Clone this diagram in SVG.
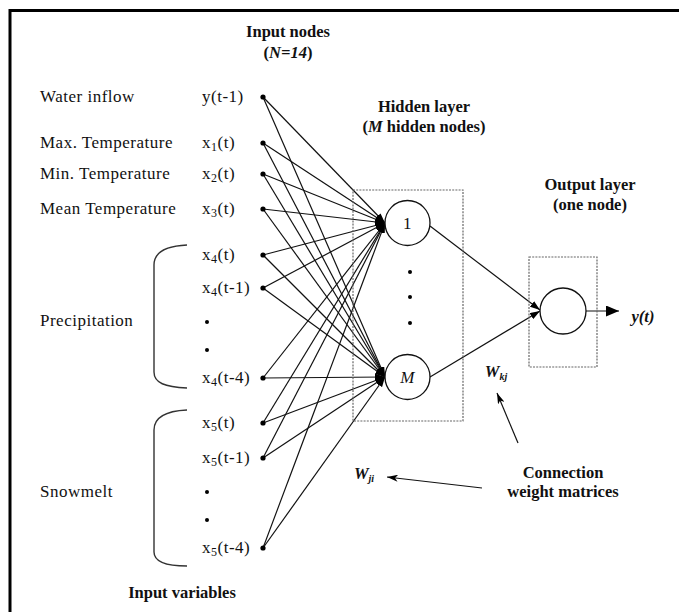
<svg xmlns="http://www.w3.org/2000/svg" width="679" height="612" viewBox="0 0 679 612">
  <style>
    .lbl { font-family: "Liberation Serif", "Times New Roman", serif; font-size: 17px; letter-spacing: 0.5px; fill: #111; }
    .ttl { font-family: "Liberation Serif", "Times New Roman", serif; font-size: 16.5px; font-weight: bold; fill: #111; text-anchor: middle; }
    .bi { font-style: italic; }
    .sub { font-size: 12px; }
    .wire { stroke: #111; stroke-width: 1.2; fill: none; }
    .layer { fill: none; stroke: #666; stroke-width: 1.2; stroke-dasharray: 2 1.2; }
    .node { fill: #fff; stroke: #111; stroke-width: 1.3; }
    .dot { fill: #000; }
    .brace { fill: none; stroke: #333; stroke-width: 1.4; }
  </style>
  <defs>
    <marker id="head" markerUnits="userSpaceOnUse" markerWidth="10" markerHeight="7" refX="10" refY="3.5" orient="auto">
      <path d="M0,0 L10,3.5 L0,7 Z" fill="#000"/>
    </marker>
    <marker id="headBig" markerUnits="userSpaceOnUse" markerWidth="13" markerHeight="11" refX="13" refY="5.5" orient="auto">
      <path d="M0,0 L13,5.5 L0,11 Z" fill="#000"/>
    </marker>
    <marker id="headThin" markerUnits="userSpaceOnUse" markerWidth="11" markerHeight="7" refX="11" refY="3.5" orient="auto">
      <path d="M0,0 L11,3.5 L0,7 L3,3.5 Z" fill="#000"/>
    </marker>
  </defs>

  <rect width="679" height="612" fill="#fff"/>

  <!-- frame (top and left edges) -->
  <path d="M10,612 L10,10.5 L679,10.5" fill="none" stroke="#000" stroke-width="3"/>

  <!-- titles -->
  <g id="titles">
    <text class="ttl" x="288" y="37">Input nodes</text>
    <text class="ttl" x="288" y="58">(<tspan class="bi">N=14</tspan>)</text>
    <text class="ttl" x="424" y="112">Hidden layer</text>
    <text class="ttl" x="424" y="132">(<tspan class="bi">M</tspan> hidden nodes)</text>
    <text class="ttl" x="590" y="190">Output layer</text>
    <text class="ttl" x="590" y="210">(one node)</text>
    <text class="ttl" x="182" y="598">Input variables</text>
    <text class="ttl" x="563" y="478">Connection</text>
    <text class="ttl" x="563" y="497">weight matrices</text>
  </g>

  <!-- variable names on the left -->
  <g id="variables">
    <text class="lbl" x="40" y="102">Water inflow</text>
    <text class="lbl" x="40" y="148">Max. Temperature</text>
    <text class="lbl" x="40" y="179">Min. Temperature</text>
    <text class="lbl" x="40" y="214">Mean Temperature</text>
    <text class="lbl" x="40" y="326">Precipitation</text>
    <text class="lbl" x="40" y="497">Snowmelt</text>
    <path class="brace" d="M187,245 C165,246 154,252 154,265 L154,372 C154,383 165,387 187,388"/>
    <path class="brace" d="M187,410 C165,411 154,418 154,430 L154,552 C154,562 165,566 187,566"/>
  </g>

  <!-- connectors -->
  <g id="connectors">
    <g marker-end="url(#head)">
      <path class="wire" d="M263,97 L385,223"/>
      <path class="wire" d="M263,97 L385,377"/>
      <path class="wire" d="M263,143 L385,223"/>
      <path class="wire" d="M263,143 L385,377"/>
      <path class="wire" d="M263,174 L385,223"/>
      <path class="wire" d="M263,174 L385,377"/>
      <path class="wire" d="M263,209 L385,223"/>
      <path class="wire" d="M263,209 L385,377"/>
      <path class="wire" d="M263,255 L385,223"/>
      <path class="wire" d="M263,255 L385,377"/>
      <path class="wire" d="M263,288 L385,223"/>
      <path class="wire" d="M263,288 L385,377"/>
      <path class="wire" d="M263,378 L385,223"/>
      <path class="wire" d="M263,378 L385,377"/>
      <path class="wire" d="M263,423 L385,223"/>
      <path class="wire" d="M263,423 L385,377"/>
      <path class="wire" d="M263,458 L385,223"/>
      <path class="wire" d="M263,458 L385,377"/>
      <path class="wire" d="M263,548 L385,223"/>
      <path class="wire" d="M263,548 L385,377"/>
      <path class="wire" d="M430,226 L540,310"/>
      <path class="wire" d="M430,377 L540,311"/>
    </g>
    <path class="wire" d="M586,311 L619,311" marker-end="url(#headBig)"/>
    <path class="wire" d="M518,443 L497,393" stroke-width="1" marker-end="url(#headThin)"/>
    <path class="wire" d="M482,488 L387,477" stroke-width="1" marker-end="url(#headThin)"/>
  </g>

  <!-- input nodes -->
  <g id="input-nodes">
    <text class="lbl" x="202" y="102">y(t-1)</text>
    <text class="lbl" x="202" y="148">x<tspan class="sub" dy="3">1</tspan><tspan dy="-3">(t)</tspan></text>
    <text class="lbl" x="202" y="179">x<tspan class="sub" dy="3">2</tspan><tspan dy="-3">(t)</tspan></text>
    <text class="lbl" x="202" y="214">x<tspan class="sub" dy="3">3</tspan><tspan dy="-3">(t)</tspan></text>
    <text class="lbl" x="202" y="260">x<tspan class="sub" dy="3">4</tspan><tspan dy="-3">(t)</tspan></text>
    <text class="lbl" x="202" y="293">x<tspan class="sub" dy="3">4</tspan><tspan dy="-3">(t-1)</tspan></text>
    <text class="lbl" x="202" y="383">x<tspan class="sub" dy="3">4</tspan><tspan dy="-3">(t-4)</tspan></text>
    <text class="lbl" x="202" y="428">x<tspan class="sub" dy="3">5</tspan><tspan dy="-3">(t)</tspan></text>
    <text class="lbl" x="202" y="463">x<tspan class="sub" dy="3">5</tspan><tspan dy="-3">(t-1)</tspan></text>
    <text class="lbl" x="202" y="553">x<tspan class="sub" dy="3">5</tspan><tspan dy="-3">(t-4)</tspan></text>
    <circle class="dot" cx="263" cy="97" r="2.6"/>
    <circle class="dot" cx="263" cy="143" r="2.6"/>
    <circle class="dot" cx="263" cy="174" r="2.6"/>
    <circle class="dot" cx="263" cy="209" r="2.6"/>
    <circle class="dot" cx="263" cy="255" r="2.6"/>
    <circle class="dot" cx="263" cy="288" r="2.6"/>
    <circle class="dot" cx="263" cy="378" r="2.6"/>
    <circle class="dot" cx="263" cy="423" r="2.6"/>
    <circle class="dot" cx="263" cy="458" r="2.6"/>
    <circle class="dot" cx="263" cy="548" r="2.6"/>
    <circle class="dot" cx="207" cy="322" r="2"/>
    <circle class="dot" cx="207" cy="350" r="2"/>
    <circle class="dot" cx="207" cy="492" r="2"/>
    <circle class="dot" cx="207" cy="520" r="2"/>
  </g>

  <!-- hidden layer -->
  <g id="hidden-layer">
    <rect class="layer" x="353" y="190" width="110" height="231"/>
    <circle class="dot" cx="410" cy="272" r="2"/>
    <circle class="dot" cx="410" cy="297" r="2"/>
    <circle class="dot" cx="410" cy="323" r="2"/>
  </g>
  <g id="hidden-node-1">
    <circle class="node" cx="407.5" cy="223" r="22.5"/>
    <text class="lbl" x="407.5" y="229" text-anchor="middle" letter-spacing="0">1</text>
  </g>
  <g id="hidden-node-M">
    <circle class="node" cx="407.5" cy="377" r="22.5"/>
    <text class="lbl" x="407.5" y="383" text-anchor="middle" font-style="italic" letter-spacing="0">M</text>
  </g>

  <!-- output layer -->
  <g id="output-layer">
    <rect class="layer" x="529" y="257" width="68" height="110"/>
  </g>
  <g id="output-node">
    <circle class="node" cx="563" cy="311" r="23"/>
    <text class="ttl bi" x="643" y="322">y(t)</text>
  </g>

  <!-- weight labels -->
  <g id="weights">
    <text class="ttl bi" x="496" y="377">W<tspan font-size="10" dy="3">kj</tspan></text>
    <text class="ttl bi" x="364" y="479">W<tspan font-size="10" dy="3">ji</tspan></text>
  </g>
</svg>
